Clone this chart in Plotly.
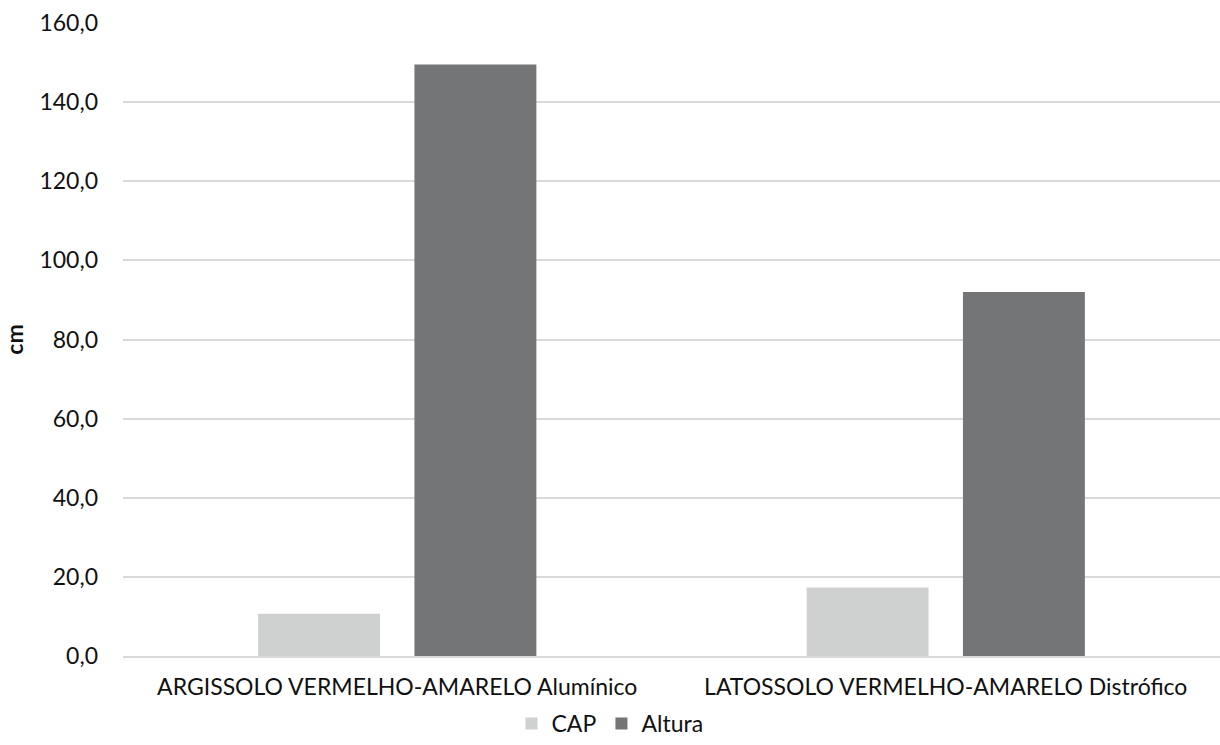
import plotly.graph_objects as go

categories = ["ARGISSOLO VERMELHO-AMARELO Alumínico", "LATOSSOLO VERMELHO-AMARELO Distrófico"]
cap_values = [10.7, 17.3]
altura_values = [149.5, 92.0]
y_ticks = [0, 20, 40, 60, 80, 100, 120, 140, 160]

font_family = "Lato, 'Open Sans', sans-serif"

fig = go.Figure()
fig.add_trace(go.Bar(name="CAP", x=categories, y=cap_values,
                     marker=dict(color="#cfd1d0", line=dict(width=0))))
fig.add_trace(go.Bar(name="Altura", x=categories, y=altura_values,
                     marker=dict(color="#737577", line=dict(width=0))))

fig.update_layout(
    width=1220, height=745,
    margin=dict(l=123, r=0, t=23, b=89),
    paper_bgcolor="white", plot_bgcolor="white",
    barmode="group", bargap=0.43, bargroupgap=0.22,
    separators=",.",
    font=dict(family=font_family, size=23, color="#111111"),
    showlegend=True,
    legend=dict(orientation="h", xref="container", x=0.5, xanchor="center",
                yref="container", y=0.0, yanchor="bottom",
                font=dict(size=23), itemwidth=30, traceorder="normal"),
    xaxis=dict(showgrid=False, showline=True, linecolor="#d9d9d9", linewidth=1.5,
               ticks="", tickfont=dict(size=23), ticklabelstandoff=10),
    yaxis=dict(range=[0, 160], tickvals=y_ticks, tickformat=".1f",
               showgrid=True, gridcolor="#d9d9d9", gridwidth=1.5,
               zeroline=False, showline=False, ticks="",
               tickfont=dict(size=23), ticklabelstandoff=24,
               title=dict(text="<b>cm</b>", font=dict(size=23), standoff=12)),
)

fig.write_html("out.html")
